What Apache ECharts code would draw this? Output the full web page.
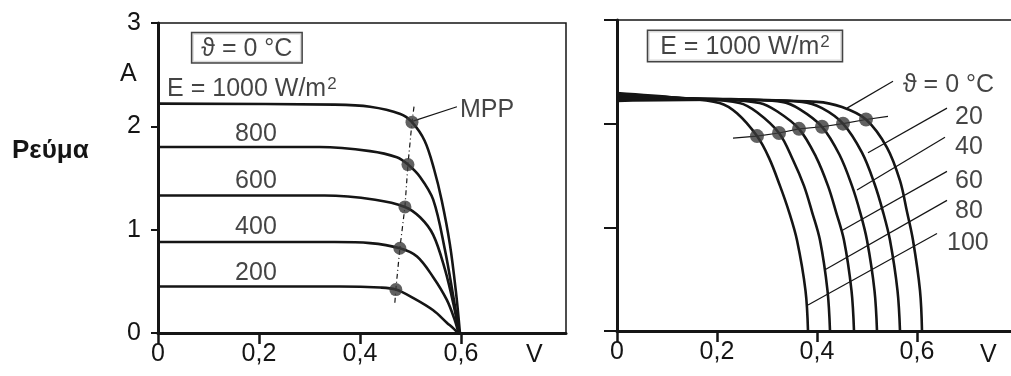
<!DOCTYPE html>
<html>
<head>
<meta charset="utf-8">
<script src="https://cdn.jsdelivr.net/npm/echarts@6/dist/echarts.min.js"></script>
<style>
  html, body { margin: 0; padding: 0; background: #fff; }
  #chart { width: 1011px; height: 376px; }
</style>
</head>
<body>
<div id="chart"></div>
<script>
// I–V characteristics of a solar cell: left = varying irradiance at 0 °C,
// right = varying cell temperature at 1000 W/m².

// ---- left panel: irradiance E (W/m²) ----
const irradiance = ['1000', '800', '600', '400', '200'];
const curveE1000 = [[0,2.22],[0.35,2.21],[0.42,2.19],[0.48,2.12],[0.503,2.04],[0.528,1.86],[0.547,1.58],[0.562,1.28],[0.578,0.86],[0.59,0.40],[0.598,0]];
const curveE800  = [[0,1.80],[0.32,1.80],[0.42,1.76],[0.473,1.70],[0.495,1.63],[0.519,1.51],[0.545,1.29],[0.568,0.81],[0.586,0.32],[0.597,0]];
const curveE600  = [[0,1.33],[0.33,1.33],[0.43,1.29],[0.489,1.22],[0.519,1.12],[0.545,0.95],[0.568,0.62],[0.586,0.26],[0.596,0]];
const curveE400  = [[0,0.88],[0.35,0.88],[0.42,0.87],[0.479,0.82],[0.513,0.74],[0.545,0.54],[0.572,0.32],[0.588,0.12],[0.595,0]];
const curveE200  = [[0,0.45],[0.36,0.45],[0.44,0.44],[0.471,0.42],[0.505,0.34],[0.545,0.22],[0.572,0.10],[0.586,0.04],[0.594,0]];
const curvesE = [curveE1000, curveE800, curveE600, curveE400, curveE200];
// maximum power points, same order as irradiance
const mppE = [[0.503,2.04],[0.495,1.63],[0.489,1.22],[0.479,0.82],[0.471,0.42]];
// dash-dot guide through the MPPs, running a little past both ends
const mppGuideE = [[0.507,2.19], ...mppE, [0.469,0.29]];

// ---- right panel: temperature ϑ (°C) ----
const temperature = ['0', '20', '40', '60', '80', '100'];
const curveT0   = [[0,2.22],[0.2,2.23],[0.40,2.21],[0.45,2.16],[0.498,2.04],[0.54,1.77],[0.566,1.45],[0.58,1.15],[0.592,0.875],[0.606,0.39],[0.61,0]];
const curveT20  = [[0,2.235],[0.2,2.235],[0.37,2.21],[0.41,2.15],[0.452,2.0],[0.49,1.72],[0.515,1.42],[0.532,1.15],[0.546,0.875],[0.561,0.39],[0.566,0]];
const curveT40  = [[0,2.25],[0.2,2.24],[0.33,2.21],[0.365,2.14],[0.41,1.97],[0.445,1.7],[0.47,1.4],[0.486,1.15],[0.50,0.875],[0.515,0.39],[0.52,0]];
const curveT60  = [[0,2.265],[0.2,2.235],[0.285,2.2],[0.32,2.12],[0.364,1.95],[0.398,1.68],[0.422,1.4],[0.438,1.15],[0.454,0.875],[0.469,0.39],[0.474,0]];
const curveT80  = [[0,2.28],[0.15,2.24],[0.245,2.2],[0.28,2.11],[0.324,1.91],[0.352,1.65],[0.374,1.4],[0.39,1.15],[0.406,0.875],[0.421,0.39],[0.426,0]];
const curveT100 = [[0,2.295],[0.12,2.25],[0.205,2.2],[0.24,2.1],[0.28,1.88],[0.304,1.67],[0.326,1.4],[0.344,1.15],[0.36,0.875],[0.377,0.39],[0.382,0]];
const curvesT = [curveT0, curveT20, curveT40, curveT60, curveT80, curveT100];
const mppT = [[0.498,2.04],[0.452,2.0],[0.41,1.97],[0.364,1.95],[0.324,1.91],[0.28,1.88]];
const mppGuideT = [[0.542,2.07], ...mppT, [0.232,1.86]];

// ---- axes ----
const xTicks = [0, 0.2, 0.4, 0.6];
const xTickText = ['0', '0,2', '0,4', '0,6'];
const yTitle = 'Ρεύμα';
const yUnit = 'A';
const xUnit = 'V';

// ---- annotations (layout, in axis units) ----
const eLabel = '{n|E = 1000 W/m}{s|2}';
const notesLeft = [
  { text: 'ϑ = 0 °C', at: [0.176, 2.76], align: 'center', boxed: true, pad: 9 },
  { text: eLabel, at: [0.018, 2.36], align: 'left' },
  { text: irradiance[1], at: [0.194, 1.92], align: 'center' },
  { text: irradiance[2], at: [0.194, 1.47], align: 'center' },
  { text: irradiance[3], at: [0.194, 1.02], align: 'center' },
  { text: irradiance[4], at: [0.194, 0.58], align: 'center' },
  { text: 'MPP', at: [0.598, 2.16], align: 'left' }
];
const leadersLeft = [ [[0.592, 2.19], [0.505, 2.05]] ];

const notesRight = [
  { text: eLabel, at: [0.256, 2.75], align: 'center', boxed: true, pad: 12 },
  { text: 'ϑ = ' + temperature[0] + ' °C', at: [0.572, 2.37], align: 'left' },
  { text: temperature[1], at: [0.676, 2.06], align: 'left' },
  { text: temperature[2], at: [0.676, 1.77], align: 'left' },
  { text: temperature[3], at: [0.676, 1.45], align: 'left' },
  { text: temperature[4], at: [0.676, 1.16], align: 'left' },
  { text: temperature[5], at: [0.66, 0.85], align: 'left' }
];
const leadersRight = [
  [[0.552, 2.41], [0.46, 2.15]],
  [[0.66, 2.15], [0.502, 1.72]],
  [[0.656, 1.87], [0.48, 1.36]],
  [[0.66, 1.54], [0.45, 0.97]],
  [[0.66, 1.26], [0.416, 0.59]],
  [[0.64, 0.94], [0.382, 0.25]]
];

const FONT = "'Liberation Sans', Arial, sans-serif";
const INK = '#151515';
const FS = 25;
const richText = {
  n: { fontSize: FS, fontFamily: FONT, color: INK },
  s: { fontSize: 17, fontFamily: FONT, color: INK, verticalAlign: 'top', padding: [0, 0, 9, 1] }
};

function xAxisCfg(gridIndex, max) {
  return {
    type: 'value', gridIndex, min: 0, max,
    axisLine: { show: true, onZero: false, lineStyle: { color: INK, width: 3 } },
    axisTick: { show: true, length: 11, customValues: xTicks, lineStyle: { color: INK, width: 2.5 } },
    axisLabel: {
      show: true, customValues: xTicks, margin: 9,
      formatter: v => xTickText[xTicks.indexOf(Math.round(v * 10) / 10)] ?? '',
      color: INK, fontFamily: FONT, fontSize: FS
    },
    splitLine: { show: false }
  };
}
function yAxisCfg(gridIndex, labels, tickLen) {
  return {
    type: 'value', gridIndex, min: 0, max: 3, interval: 1,
    axisLine: { show: true, lineStyle: { color: INK, width: 3 } },
    axisTick: { show: true, length: tickLen, lineStyle: { color: INK, width: 2 } },
    axisLabel: { show: labels, margin: 17, color: INK, fontFamily: FONT, fontSize: FS },
    splitLine: { show: false }
  };
}

function curveSeries(data, xi) {
  return {
    type: 'line', xAxisIndex: xi, yAxisIndex: xi, data,
    showSymbol: false, smooth: 0.35, silent: true, z: 3,
    lineStyle: { color: INK, width: 2.6 }
  };
}
function leaderSeries(seg, xi) {
  return {
    type: 'line', xAxisIndex: xi, yAxisIndex: xi, data: seg,
    showSymbol: false, silent: true, z: 2,
    lineStyle: { color: INK, width: 1.2 }
  };
}
function noteSeries(notes, xi) {
  return {
    type: 'scatter', xAxisIndex: xi, yAxisIndex: xi, symbolSize: 0, silent: true, z: 6,
    clip: false,
    data: notes.map(n => ({
      value: n.at,
      label: {
        show: true,
        formatter: n.text,
        rich: richText,
        position: n.align === 'left' ? 'right' : 'inside',
        distance: 0,
        color: INK, fontFamily: FONT, fontSize: FS,
        ...(n.boxed ? { borderColor: INK, borderWidth: 1.5, padding: [3, n.pad, 1, n.pad], backgroundColor: '#fff' } : {})
      }
    }))
  };
}

const series = [];
curvesE.forEach(c => series.push(curveSeries(c, 0)));
series.push({
  type: 'line', xAxisIndex: 0, yAxisIndex: 0, data: mppGuideE,
  showSymbol: false, silent: true, z: 2,
  lineStyle: { color: INK, width: 1.2, type: [5, 3, 1, 3] }
});
series.push({
  type: 'scatter', xAxisIndex: 0, yAxisIndex: 0, data: mppE, symbolSize: 13, z: 5,
  itemStyle: { color: '#3a3a3a' }, silent: true
});
leadersLeft.forEach(s => series.push(leaderSeries(s, 0)));
series.push(noteSeries(notesLeft, 0));

curvesT.forEach(c => series.push(curveSeries(c, 1)));
series.push({
  type: 'line', xAxisIndex: 1, yAxisIndex: 1, data: mppGuideT,
  showSymbol: false, silent: true, z: 2,
  lineStyle: { color: INK, width: 1.2 }
});
series.push({
  type: 'scatter', xAxisIndex: 1, yAxisIndex: 1, data: mppT, symbolSize: 14, z: 5,
  itemStyle: { color: '#3a3a3a' }, silent: true
});
leadersRight.forEach(s => series.push(leaderSeries(s, 1)));
series.push(noteSeries(notesRight, 1));

const chart = echarts.init(document.getElementById('chart'), null, { renderer: 'canvas' });
chart.setOption({
  animation: false,
  backgroundColor: '#fff',
  grid: [
    { left: 158, top: 23, width: 408, height: 310, show: true, borderColor: INK, borderWidth: 1.5, containLabel: false, outerBoundsMode: 'none' },
    { left: 617, top: 20, width: 420, height: 311, show: true, borderColor: INK, borderWidth: 1.5, containLabel: false, outerBoundsMode: 'none' }
  ],
  xAxis: [xAxisCfg(0, 0.808), xAxisCfg(1, 0.84)],
  yAxis: [yAxisCfg(0, true, 7), yAxisCfg(1, false, 13)],
  graphic: [
    { type: 'text', left: 12, top: 138, style: { text: yTitle, font: 'bold 26px ' + FONT, fill: INK } },
    { type: 'text', left: 120, top: 62, style: { text: yUnit, font: FS + 'px ' + FONT, fill: INK } },
    { type: 'text', left: 526, top: 343, style: { text: xUnit, font: FS + 'px ' + FONT, fill: INK } },
    { type: 'text', left: 980, top: 343, style: { text: xUnit, font: FS + 'px ' + FONT, fill: INK } }
  ],
  series
});
</script>
</body>
</html>
